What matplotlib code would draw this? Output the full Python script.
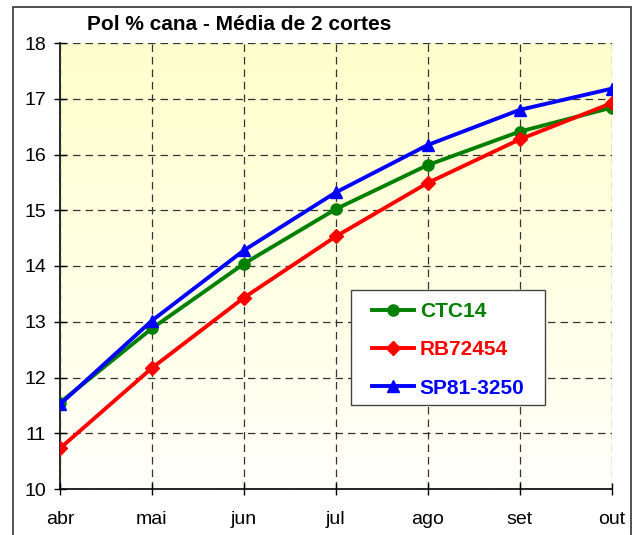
import matplotlib.pyplot as plt
import numpy as np
from matplotlib.colors import LinearSegmentedColormap
from matplotlib.patches import Rectangle

plt.rcParams["font.family"] = ["Liberation Sans", "DejaVu Sans"]

meses = ["abr", "mai", "jun", "jul", "ago", "set", "out"]
ctc14 = [11.55, 12.88, 14.04, 15.02, 15.81, 16.41, 16.84]
rb72454 = [10.73, 12.17, 13.43, 14.53, 15.49, 16.27, 16.92]
sp81 = [11.52, 13.02, 14.28, 15.32, 16.17, 16.80, 17.18]

W, H = 638, 535
fig = plt.figure(figsize=(W / 100, H / 100), dpi=100)
ax = fig.add_axes([60 / W, 1 - 489 / H, (611.5 - 60) / W, (489 - 43) / H])

# fundo em degradê (amarelo claro em cima, quase branco embaixo)
cmap = LinearSegmentedColormap.from_list("bg", ["#FFFFFA", "#FFFFCC"])
grad = np.linspace(0, 1, 256).reshape(-1, 1)
ax.imshow(grad, cmap=cmap, aspect="auto", origin="lower",
          extent=[0, 6, 10, 18], zorder=0)

x = np.arange(len(meses))
ax.plot(x, ctc14, color="#008000", lw=2.8, marker="o", ms=8, label="CTC14", zorder=3)
ax.plot(x, rb72454, color="#FF0000", lw=2.8, marker="D", ms=7, label="RB72454", zorder=3)
ax.plot(x, sp81, color="#0000FF", lw=2.8, marker="^", ms=9, label="SP81-3250", zorder=4)

ax.set_xlim(0, 6)
ax.set_ylim(10, 18)
ax.set_xticks(x)
ax.set_xticklabels(meses)
ax.set_yticks(range(10, 19))
ax.tick_params(direction="inout", length=8, width=1, labelsize=14, colors="black")
ax.tick_params(axis="x", pad=12)
ax.tick_params(axis="y", pad=6)

ax.grid(True, color="#333333", ls=(0, (6, 4)), lw=0.9, zorder=1)
ax.set_axisbelow(False)
for s in ["top", "right"]:
    ax.spines[s].set_visible(False)
for s in ["left", "bottom"]:
    ax.spines[s].set_linewidth(1.2)
    ax.spines[s].set_zorder(2)

# caixa da legenda (desenhada à parte para controlar as margens)
ax_w, ax_h = 611.5 - 60, 489 - 43
ax.add_patch(Rectangle(((351 - 60) / ax_w, (489 - 405) / ax_h),
                       (545 - 351) / ax_w, (405 - 290) / ax_h,
                       transform=ax.transAxes, facecolor="white",
                       edgecolor="#444444", lw=1.0, zorder=5))
leg = ax.legend(loc="upper left", bbox_to_anchor=((372 - 60) / ax_w, (489 - 302) / ax_h),
                frameon=False, prop={"weight": "bold", "size": 15}, handlelength=2.0,
                labelspacing=0.93, borderpad=0, handletextpad=0.3, borderaxespad=0)
leg.set_zorder(6)
for txt, c in zip(leg.get_texts(), ["#008000", "#FF0000", "#0000FF"]):
    txt.set_color(c)

fig.text(87 / W, 1 - 24 / H, "Pol % cana - Média de 2 cortes", fontsize=15,
         fontweight="bold", va="center", ha="left")

# moldura externa
fig.patches.append(Rectangle((13 / W, -0.05), (631 - 13) / W, 1.05 - 7 / H,
                             transform=fig.transFigure, fill=False,
                             edgecolor="#333333", lw=1.2))

fig.savefig("out.png", dpi=100)
